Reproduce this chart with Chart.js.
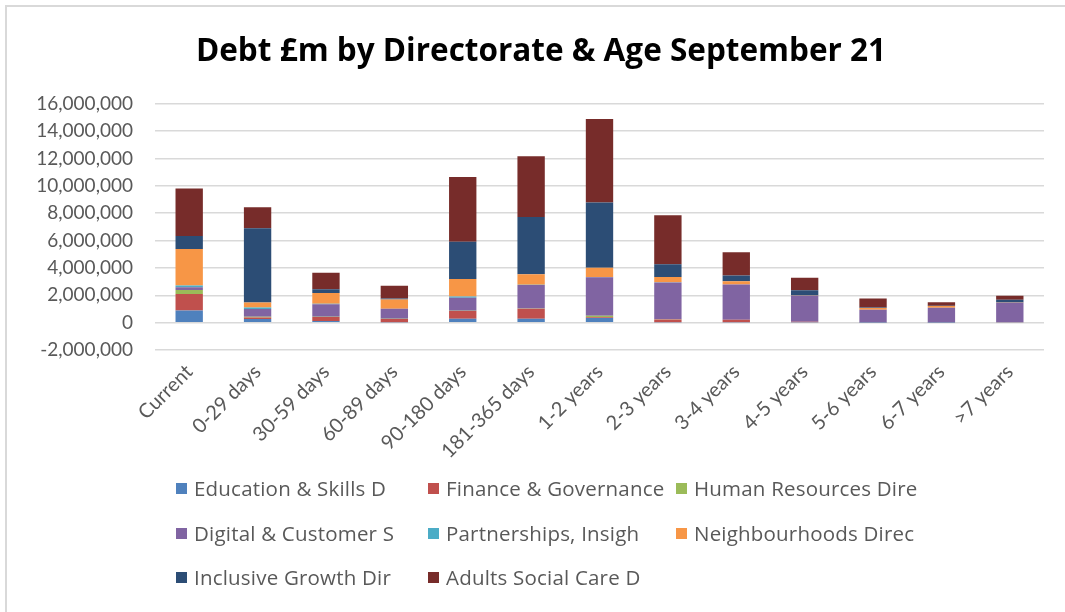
<!DOCTYPE html>
<html>
<head>
<meta charset="utf-8">
<script src="https://cdn.jsdelivr.net/npm/chart.js@4/dist/chart.umd.min.js"></script>
<style>
  html, body { margin: 0; padding: 0; background: #fff; }
  #wrap { position: relative; width: 1065px; height: 612px; overflow: hidden; }
  #frame { position: absolute; left: 5px; top: 5px; width: 1100px; height: 700px;
           border-left: 2px solid #d9d9d9; border-top: 2px solid #d9d9d9; box-sizing: border-box; }
  #c { position: absolute; left: 0; top: 0; }
  #legend { position: absolute; left: 0; top: 0; width: 1065px; height: 612px; pointer-events: none;
            font-family: "Open Sans", Lato, sans-serif; font-size: 20.5px; letter-spacing: 0.2px; color: #595959; }
  .li { position: absolute; white-space: nowrap; line-height: 24px; }
  .sw { position: absolute; width: 11px; height: 11px; }
</style>
</head>
<body>
<div id="wrap">
  <div id="frame"></div>
  <canvas id="c" width="1065" height="612"></canvas>
  <div id="legend"></div>
</div>
<script>
// Age bands
const categories = ['Current', '0-29 days', '30-59 days', '60-89 days', '90-180 days', '181-365 days',
  '1-2 years', '2-3 years', '3-4 years', '4-5 years', '5-6 years', '6-7 years', '>7 years'];

// Debt per directorate (£) for each age band
const educationSkills = [880000, 270000, 120000, 30000, 290000, 290000, 340000, 30000, 20000, 30000, 10000, 10000, 20000];
const financeGovernance = [1220000, 100000, 290000, 240000, 560000, 730000, 50000, 200000, 200000, 30000, 10000, 10000, 20000];
const humanResources = [290000, 70000, 20000, 10000, 20000, 20000, 120000, 10000, 0, 0, 0, 0, 0];
const digitalCustomer = [200000, 560000, 920000, 730000, 950000, 1710000, 2800000, 2700000, 2560000, 1900000, 930000, 1070000, 1420000];
const partnerships = [120000, 100000, 30000, 10000, 100000, 20000, 20000, 10000, 10000, 10000, 0, 0, 0];
const neighbourhoods = [2680000, 370000, 780000, 680000, 1270000, 760000, 680000, 390000, 240000, 20000, 120000, 120000, 20000];
const inclusiveGrowth = [950000, 5430000, 290000, 70000, 2730000, 4200000, 4780000, 930000, 420000, 370000, 30000, 20000, 200000];
const adultsSocialCare = [3460000, 1530000, 1200000, 930000, 4720000, 4430000, 6100000, 3580000, 1700000, 920000, 670000, 270000, 290000];

const seriesNames = ['Education & Skills D', 'Finance & Governance', 'Human Resources Dire',
  'Digital & Customer S', 'Partnerships, Insigh', 'Neighbourhoods Direc',
  'Inclusive Growth Dir', 'Adults Social Care D'];
const seriesValues = [educationSkills, financeGovernance, humanResources, digitalCustomer,
  partnerships, neighbourhoods, inclusiveGrowth, adultsSocialCare];
const seriesColors = ['#4F81BD', '#C0504D', '#9BBB59', '#8064A2', '#4BACC6', '#F79646', '#2C4D75', '#772C2A'];

// Value axis
const yMin = -2000000, yMax = 16000000, yStep = 2000000;

const FONT = 'Lato, "Open Sans", sans-serif';
const TITLE_FONT = '"Open Sans", Lato, sans-serif';
const GREY = '#595959';

const datasets = seriesNames.map((name, i) => ({
  label: name,
  data: seriesValues[i],
  backgroundColor: seriesColors[i],
  borderWidth: 0,
  barPercentage: 0.4,
  categoryPercentage: 1.0,
  stack: 'debt'
}));

const chart = new Chart(document.getElementById('c'), {
  type: 'bar',
  data: { labels: categories, datasets },
  options: {
    responsive: false,
    animation: false,
    layout: { padding: { left: 38, right: 21, top: 0, bottom: 152 } },
    plugins: {
      legend: { display: false },
      tooltip: { enabled: false },
      title: {
        display: true,
        text: 'Debt £m by Directorate & Age September 21',
        color: '#000',
        font: { family: TITLE_FONT, size: 31.5, weight: 'bold' },
        padding: { top: 33, bottom: 33 }
      }
    },
    scales: {
      x: {
        stacked: true,
        grid: { display: false },
        border: { display: false },
        ticks: {
          color: GREY, font: { family: FONT, size: 20 },
          minRotation: 45, maxRotation: 45, autoSkip: false, padding: 2
        },
        afterFit: s => { s.height = 110; }
      },
      y: {
        stacked: true,
        min: yMin, max: yMax,
        grid: { color: '#d9d9d9', lineWidth: 1.5, drawTicks: false },
        border: { display: false },
        ticks: {
          stepSize: yStep, color: GREY, font: { family: FONT, size: 19 }, padding: 22,
          callback: v => Number(v).toLocaleString('en-US')
        },
        afterFit: s => { s.width = 117; }
      }
    }
  }
});

// Legend laid out in three columns under the plot
const legendEl = document.getElementById('legend');
const colX = [176, 428, 676];
const rowY = [489, 534, 578];
const items = Chart.defaults.plugins.legend.labels.generateLabels(chart);
items.forEach((it, i) => {
  const col = i % 3, row = Math.floor(i / 3);
  const sw = document.createElement('div');
  sw.className = 'sw';
  sw.style.left = colX[col] + 'px';
  sw.style.top = (rowY[row] - 6) + 'px';
  sw.style.background = it.fillStyle;
  legendEl.appendChild(sw);
  const tx = document.createElement('div');
  tx.className = 'li';
  tx.style.left = (colX[col] + 18) + 'px';
  tx.style.top = (rowY[row] - 13) + 'px';
  tx.textContent = it.text;
  legendEl.appendChild(tx);
});
</script>
</body>
</html>
